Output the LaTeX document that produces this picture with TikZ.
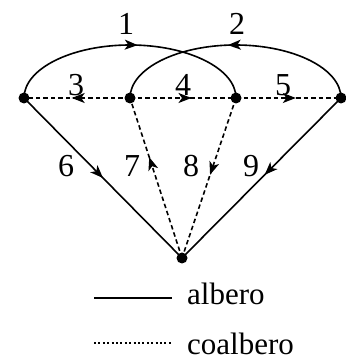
\documentclass[tikz,border=0pt]{standalone}
\usepackage{fontspec}
\setmainfont{Liberation Serif}
\usetikzlibrary{arrows.meta,decorations.markings}
\begin{document}
\begin{tikzpicture}[x=1pt,y=1pt,
  dot/.style={circle,fill=black,inner sep=0pt,minimum size=11pt},
  lab/.style={inner sep=0pt,font=\fontsize{32}{38}\selectfont},
  legtext/.style={inner sep=0pt,anchor=base west,font=\fontsize{31}{37}\selectfont},
  tree/.style={line width=1.6pt},
  cotree/.style={line width=1.6pt,dash pattern=on 4.5pt off 3pt},
  tip/.style={postaction={decorate},decoration={markings,
     mark=at position #1 with {\arrow[solid]{Stealth[length=13pt,width=10pt,inset=3.5pt]}}}}
]
\useasboundingbox (0,0) rectangle (345,363);
\node[dot] (A) at (24,265) {};
\node[dot] (B) at (130,265) {};
\node[dot] (C) at (236,265) {};
\node[dot] (D) at (341,265) {};
\node[dot] (E) at (182,105) {};
% tree arcs
\draw[tree,tip=0.53] (A.center) arc[start angle=180,end angle=0,x radius=106pt,y radius=53pt];
\draw[tree,tip=0.53] (D.center) arc[start angle=0,end angle=180,x radius=105.5pt,y radius=53pt];
% tree diagonals
\draw[tree,tip=0.5] (A.center) -- (E.center);
\draw[tree,tip=0.48] (D.center) -- (E.center);
% cotree
\draw[cotree,tip=0.55] (B.center) -- (A.center);
\draw[cotree,tip=0.58] (B.center) -- (C.center);
\draw[cotree,tip=0.57] (C.center) -- (D.center);
\draw[cotree,tip=0.63] (E.center) -- (B.center);
\draw[cotree,tip=0.48] (C.center) -- (E.center);
% labels
\node[lab] (l1) at (126,339) {1};
\node[lab] (l2) at (237,339) {2};
\node[lab] (l3) at (76,278) {3};
\node[lab] (l4) at (183,278) {4};
\node[lab] (l5) at (283,278) {5};
\node[lab] (l6) at (66,197) {6};
\node[lab] (l7) at (132,197) {7};
\node[lab] (l8) at (191,197) {8};
\node[lab] (l9) at (251,197) {9};
% legend
\coordinate (s1) at (94,65);
\coordinate (s2) at (172,65);
\coordinate (d1) at (94,20);
\coordinate (d2) at (172,20);
\draw[line width=1.5pt] (s1) -- (s2);
\draw[line width=1.3pt,dash pattern=on 2pt off 2.4pt] (d1) -- (d2);
\node[legtext] (t1) at (187,58) {albero};
\node[legtext] (t2) at (187,9) {coalbero};
\end{tikzpicture}
\end{document}
